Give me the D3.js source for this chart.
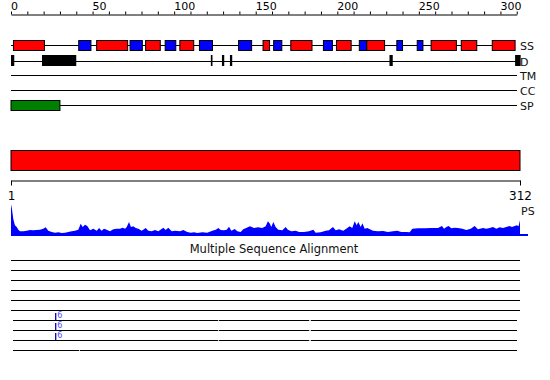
<!DOCTYPE html>
<html>
<head>
<meta charset="utf-8">
<script src="https://cdn.jsdelivr.net/npm/d3@7"></script>
<style>
  body { margin: 0; background: #fff; }
  svg { display: block; font-family: "DejaVu Sans", sans-serif; }
</style>
</head>
<body>
<svg id="chart"></svg>
<script>
// ruler labels (every 10 has a tick, every 50 a label)
const rulerLabels = [0, 50, 100, 150, 200, 250, 300];

// feature tracks
const trackNames = ["SS", "D", "TM", "CC", "SP"];
const trackEnds = [309, 312, 310, 310, 310];

// secondary structure: helices (red) and strands (blue), residue ranges
const ssHelix = [[1.5, 20.5], [52.5, 71.5], [82.5, 91.5], [103.5, 112], [154.5, 158.5],
                 [171.5, 184.5], [199.5, 208.5], [218, 229], [257.5, 273], [276, 285.5], [295, 309]];
const ssStrand = [[41.5, 49], [73, 80.5], [94.5, 101], [115.5, 123.5], [139.5, 147.5],
                  [161, 166], [191.5, 197], [213.5, 218], [236.5, 240], [249, 252.5]];

// disorder
const disorder = [[0, 2], [19, 40], [122.5, 123.5], [129.3, 130.7], [134.2, 135.6], [232, 234], [309, 312.4]];

// signal peptide
const signalPeptide = [[0, 30]];

// domain bar
const domainRange = [1, 312];

// PS profile: [residue, score]
const psProfile = [
  [1, 31.7], [1.6, 27], [2.4, 17], [3.4, 10.7], [4.5, 9], [5.5, 6.3], [6.5, 4.7], [8.5, 4.7],
  [10.6, 5.3], [12.6, 6], [14.6, 5.7], [16.7, 6], [18.7, 6.3], [20.7, 7.3], [22.2, 8.7], [23.8, 5.3],
  [25.9, 4], [27.9, 3.3], [29.9, 3.7], [32, 3], [34, 3.3], [36, 4], [38.1, 4.7], [40.1, 5.3],
  [42.1, 6.3], [43.6, 12.3], [44.8, 9], [46.2, 11.3], [47.6, 10], [49.3, 5.7], [51.3, 7.3], [53.4, 5.3],
  [54.8, 8], [56.4, 5.3], [57.8, 7.3], [59.5, 6.3], [61.5, 4.7], [63.5, 6.7], [65.6, 7.3], [67.6, 7.3],
  [69.2, 8.3], [70.7, 7.3], [71.7, 9], [73.1, 14], [74.3, 9], [75.7, 9.7], [77.2, 8], [78.8, 7.3],
  [80.9, 5.3], [83.3, 8], [84.9, 5.3], [87, 4.7], [89, 6], [91, 4.7], [94.1, 8.3], [95.5, 6],
  [97.1, 8.3], [99.2, 4.7], [101.2, 5.3], [104.3, 4.7], [106.3, 6], [108.7, 4], [110.8, 3.3], [112.8, 3.7],
  [114.8, 3], [117.9, 3.7], [120.9, 3.3], [124, 5.3], [126.1, 6.3], [127.7, 8], [129.1, 6], [131.1, 5.7],
  [132.8, 6.3], [134.2, 9.3], [135.6, 5.3], [137.7, 7], [139.3, 4.7], [141.3, 4], [142.9, 6.7], [145, 8.3],
  [147, 9.7], [149.5, 8], [151.9, 8.7], [154.5, 8], [156.6, 9.7], [158, 14.7], [159.2, 12.3], [160, 9],
  [161.3, 14], [162.7, 9], [164.3, 6.3], [166.8, 5.7], [168.8, 9], [170.2, 6.3], [172.3, 4.7], [175, 5.3],
  [177, 4], [180, 4], [183.1, 4.7], [185.7, 6.3], [187.2, 3.3], [190.2, 3.7], [193.3, 5.3], [195.3, 5.7],
  [197.7, 9], [199.4, 5.7], [201.4, 6.7], [204, 5.3], [206.5, 8], [207.9, 9.7], [209.5, 8], [211, 14.7],
  [212.2, 10.7], [213.2, 14], [214.7, 9], [215.7, 12.7], [217.1, 7.3], [218.7, 8], [222.2, 5.3], [225.2, 4.7],
  [228.3, 5], [231.3, 4], [234.4, 4.7], [237, 5.3], [239.5, 4], [242.5, 4], [244.6, 3.7], [246.2, 7.3],
  [249.7, 7.7], [253.8, 7.7], [257.8, 8], [261.9, 8], [264.3, 10], [265.6, 7.3], [267, 9], [268.4, 10],
  [270, 7.7], [272.1, 8.3], [274.1, 8], [276.8, 7.3], [279.2, 6], [281.9, 7.3], [284.3, 10], [286.3, 6.7],
  [289.4, 8], [291.4, 7.3], [293.5, 8], [295.5, 9], [297.5, 7.3], [299.6, 8.7], [301.6, 8], [303.6, 9],
  [305.7, 10], [307.1, 9], [308.7, 10], [310.1, 10.7], [311.1, 9.7], [312, 15.7]
];

// multiple sequence alignment rows: covered range, gap residues, insertions [residue, length]
const msaRows = [
  { from: 0, to: 312, gaps: [], inserts: [] },
  { from: 0, to: 312, gaps: [], inserts: [] },
  { from: 0, to: 312, gaps: [], inserts: [] },
  { from: 0, to: 312, gaps: [], inserts: [] },
  { from: 0, to: 312, gaps: [], inserts: [] },
  { from: 0, to: 312, gaps: [], inserts: [] },
  { from: 1.5, to: 310, gaps: [127.3, 183.2], inserts: [[27.4, 6]] },
  { from: 1.5, to: 310, gaps: [127.3, 183.2], inserts: [[27.4, 6]] },
  { from: 1.5, to: 310, gaps: [127.3, 183.2], inserts: [[27.4, 6]] },
  { from: 1.5, to: 310, gaps: [41.9], inserts: [] }
];

const width = 550, height = 380;
const svg = d3.select("#chart").attr("width", width).attr("height", height);

const x = d3.scaleLinear().domain([0, 312]).range([11, 520]);
const xRes = d3.scaleLinear().domain([1, 312]).range([11, 520]);
const yTrack = d3.scaleOrdinal().domain(trackNames).range([45, 61, 75, 90, 105]);

// ---- ruler ----
const rulerScale = d3.scaleLinear().domain([0, 310]).range([x(0), x(310)]);
svg.append("g")
   .attr("transform", "translate(0,14.5)")
   .call(d3.axisTop(rulerScale)
           .tickValues(d3.range(0, 311, 10))
           .tickSize(3)
           .tickSizeOuter(0)
           .tickFormat(d => rulerLabels.includes(d) ? d : ""))
   .call(g => g.attr("font-family", null).attr("font-size", 11))
   .call(g => g.selectAll("text").attr("text-anchor", "start").attr("x", -0.5).attr("y", -5).attr("fill", "#000"));

// ---- tracks ----
svg.selectAll(".track-line")
   .data(trackNames)
   .enter()
   .append("line")
   .attr("class", "track-line")
   .attr("x1", x(0))
   .attr("x2", (d, i) => x(trackEnds[i]))
   .attr("y1", d => yTrack(d) + 0.5)
   .attr("y2", d => yTrack(d) + 0.5)
   .attr("stroke", "#000")
   .attr("shape-rendering", "crispEdges");

svg.selectAll(".track-label")
   .data(trackNames)
   .enter()
   .append("text")
   .attr("class", "track-label")
   .attr("x", x(312))
   .attr("y", d => yTrack(d) + 1)
   .attr("dy", "0.35em")
   .attr("font-size", 11)
   .attr("fill", "#111")
   .text(d => d);

const ssData = ssHelix.map(r => ({ r, fill: "#ff0000" }))
                      .concat(ssStrand.map(r => ({ r, fill: "#0000ff" })));
svg.selectAll(".ss")
   .data(ssData)
   .enter()
   .append("rect")
   .attr("class", "ss")
   .attr("x", d => x(d.r[0]))
   .attr("y", yTrack("SS") - 4.5)
   .attr("width", d => x(d.r[1]) - x(d.r[0]))
   .attr("height", 10)
   .attr("fill", d => d.fill)
   .attr("stroke", "#000");

svg.selectAll(".dis")
   .data(disorder)
   .enter()
   .append("rect")
   .attr("class", "dis")
   .attr("x", d => x(d[0]))
   .attr("y", yTrack("D") - 6)
   .attr("width", d => x(d[1]) - x(d[0]))
   .attr("height", 11)
   .attr("fill", "#000");

svg.selectAll(".sp")
   .data(signalPeptide)
   .enter()
   .append("rect")
   .attr("class", "sp")
   .attr("x", d => x(d[0]))
   .attr("y", yTrack("SP") - 4.5)
   .attr("width", d => x(d[1]) - x(d[0]))
   .attr("height", 10)
   .attr("fill", "#008000")
   .attr("stroke", "#000");

// ---- domain bar ----
svg.append("rect")
   .attr("x", xRes(domainRange[0]))
   .attr("y", 150.5)
   .attr("width", xRes(domainRange[1]) - xRes(domainRange[0]))
   .attr("height", 20)
   .attr("fill", "#ff0000")
   .attr("stroke", "#000");

svg.append("g")
   .attr("transform", "translate(0,180.5)")
   .call(d3.axisBottom(xRes).tickValues(domainRange).tickSize(5).tickSizeOuter(0))
   .call(g => g.attr("font-family", null).attr("font-size", 12))
   .call(g => g.selectAll("text").attr("y", 11).attr("fill", "#000"));

svg.append("text")
   .attr("x", xRes(312) + 1)
   .attr("y", 215)
   .attr("font-size", 11)
   .attr("fill", "#111")
   .text("PS");

// ---- PS profile ----
const yPs = d3.scaleLinear().domain([0, 32]).range([236, 204]);
svg.append("path")
   .datum(psProfile)
   .attr("d", d3.area().x(d => xRes(d[0])).y0(yPs(0)).y1(d => yPs(d[1])))
   .attr("fill", "#0000ff");

svg.append("rect")
   .attr("x", xRes(1))
   .attr("y", yPs(0) - 2)
   .attr("width", xRes(312) + 8 - xRes(1))
   .attr("height", 2)
   .attr("fill", "#0000ff");

// ---- MSA ----
svg.append("text")
   .attr("x", 274)
   .attr("y", 253)
   .attr("text-anchor", "middle")
   .attr("font-size", 11.5)
   .attr("fill", "#111")
   .text("Multiple Sequence Alignment");

const yMsa = d3.scalePoint().domain(d3.range(msaRows.length)).range([260, 350]);

msaRows.forEach((row, i) => {
  const y = yMsa(i) + 0.5;
  const g = svg.append("g");
  const stops = [row.from];
  row.gaps.forEach(gp => { stops.push(gp - 0.5, gp + 0.5); });
  stops.push(row.to);
  for (let k = 0; k < stops.length; k += 2) {
    g.append("line")
     .attr("x1", x(stops[k])).attr("x2", x(stops[k + 1]))
     .attr("y1", y).attr("y2", y)
     .attr("stroke", "#000")
     .attr("shape-rendering", "crispEdges");
  }
  row.gaps.forEach(gp => {
    g.append("line")
     .attr("x1", x(gp - 0.5)).attr("x2", x(gp + 0.5))
     .attr("y1", y).attr("y2", y)
     .attr("stroke", "#c8c8c8")
     .attr("shape-rendering", "crispEdges");
  });
  row.inserts.forEach(ins => {
    g.append("line")
     .attr("x1", x(ins[0])).attr("x2", x(ins[0]))
     .attr("y1", y - 7.5).attr("y2", y - 0.5)
     .attr("stroke", "#0000c0")
     .attr("stroke-width", 1.3);
    g.append("text")
     .attr("x", x(ins[0]) + 1.5)
     .attr("y", y - 2.5)
     .attr("font-size", 8)
     .attr("fill", "#4a4aff")
     .text(ins[1]);
  });
});
</script>
</body>
</html>
